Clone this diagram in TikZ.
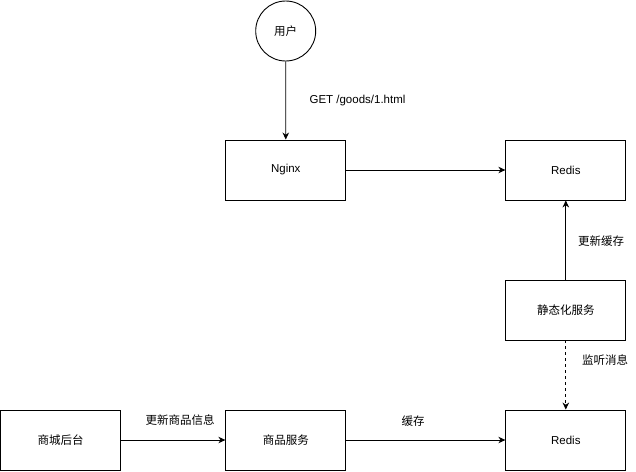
\documentclass[tikz,border=0pt]{standalone}
\usepackage{fontspec}
\setmainfont{Liberation Sans}
\newfontfamily\cjk{Noto Sans CJK SC}
\usetikzlibrary{arrows.meta}
\begin{document}
\begin{tikzpicture}[x=1pt,y=-1pt,
  font=\fontsize{11.5}{13}\selectfont,
  box/.style={draw, line width=0.9pt, minimum width=120pt, minimum height=60pt, inner sep=0pt},
  usr/.style={draw, circle, line width=0.9pt, minimum size=60pt, inner sep=0pt},
  conn/.style={line width=0.9pt, -{Stealth[length=7pt,width=6.5pt,inset=2.2pt]}},
  lbl/.style={inner sep=0pt}]
\useasboundingbox (0,0) rectangle (636,471);
\node[usr] (user) at (285.7,31) {\cjk 用户};
\node[box] (nginx) at (285.8,170) {Nginx};
\node[box] (redis1) at (565.8,170) {Redis};
\node[box] (static) at (565.8,310) {\cjk 静态化服务};
\node[box] (redis2) at (565.8,440) {Redis};
\node[box] (admin) at (60.6,440) {\cjk 商城后台};
\node[box] (goods) at (285.8,440) {\cjk 商品服务};
\draw[conn] (user) -- (nginx);
\draw[conn] (nginx) -- (redis1);
\draw[conn] (static) -- (redis1);
\draw[conn, dash pattern=on 3pt off 3pt] (static) -- (redis2);
\draw[conn] (admin) -- (goods);
\draw[conn] (goods) -- (redis2);
\node[lbl] (l1) at (357.5,101) {GET /goods/1.html};
\node[lbl] (l2) at (601,241) {\cjk 更新缓存};
\node[lbl] (l3) at (605,360) {\cjk 监听消息};
\node[lbl] (l4) at (180,420) {\cjk 更新商品信息};
\node[lbl] (l5) at (413,421) {\cjk 缓存};
\end{tikzpicture}
\end{document}
